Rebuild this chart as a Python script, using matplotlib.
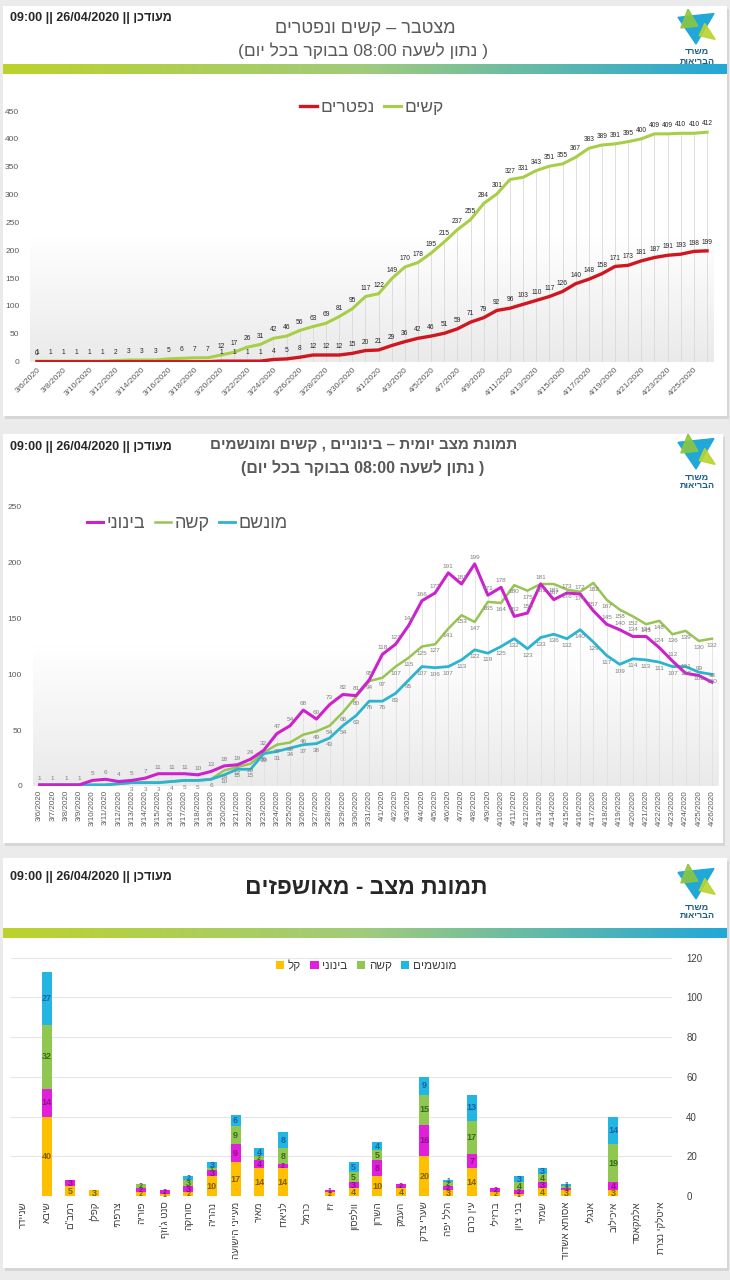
import re
import numpy as np
import matplotlib
matplotlib.use("Agg")
import matplotlib.pyplot as plt
from matplotlib.colors import LinearSegmentedColormap
from matplotlib.patches import Rectangle, Polygon

plt.rcParams['font.family'] = ['Liberation Sans', 'DejaVu Sans']

W, H = 730, 1280

# ---------------- data ----------------
dates = [f'3/{d}/2020' for d in range(6, 32)] + [f'4/{d}/2020' for d in range(1, 27)]

# cumulative (top chart)
severe_cum = [1, 1, 1, 1, 1, 1, 2, 3, 3, 3, 5, 6, 7, 7, 12, 17, 26, 31, 42, 46, 56, 63, 69, 81, 95, 117,
              122, 149, 170, 178, 195, 215, 237, 255, 284, 301, 327, 331, 343, 351, 355, 367, 383, 389,
              391, 395, 400, 409, 409, 410, 410, 412]
deaths_cum = [0, 0, 0, 0, 0, 0, 0, 0, 0, 0, 0, 0, 0, 0, 1, 1, 1, 1, 4, 5, 8, 12, 12, 12, 15, 20,
              21, 29, 36, 42, 46, 51, 59, 71, 79, 92, 96, 103, 110, 117, 126, 140, 148, 158, 171, 173,
              181, 187, 191, 193, 198, 199]

# daily status (middle chart)
moderate = [1, 1, 1, 1, 5, 6, 4, 5, 7, 11, 11, 11, 10, 13, 18, 19, 24, 32, 47, 54, 68, 60, 73, 82, 81, 95,
            118, 127, 144, 166, 173, 191, 181, 199, 171, 178, 152, 155, 181, 167, 173, 172, 157, 145,
            140, 134, 134, 124, 112, 101, 99, 93]
severe = [1, 1, 1, 1, 1, 1, 2, 3, 3, 3, 4, 5, 5, 6, 14, 17, 20, 30, 37, 39, 46, 49, 54, 66, 80, 94,
          97, 107, 115, 125, 127, 141, 153, 147, 165, 164, 180, 175, 181, 181, 176, 174, 182, 167,
          158, 152, 145, 148, 136, 139, 130, 132]
ventilated = [1, 1, 1, 1, 1, 1, 2, 3, 3, 3, 4, 5, 5, 6, 10, 15, 15, 29, 31, 34, 37, 38, 43, 54, 63, 76,
              76, 83, 95, 107, 106, 107, 113, 122, 119, 125, 132, 123, 133, 136, 132, 140, 129, 117,
              109, 114, 113, 111, 107, 107, 102, 100]

# hospitals (bottom chart)
hospitals = ['שניידר', 'שיבא', 'רמב"ם', 'קפלן', 'צרפתי', 'פוריה', "סנט ג'וזף", 'סורוקה', 'נהריה',
             'מעייני הישועה', 'מאיר', 'לניאדו', 'כרמל', 'זיו', 'וולפסון', 'השרון', 'העמק', 'שערי צדק',
             'הלל יפה', 'עין כרם', 'ברזילי', 'בני ציון', 'שמיר', 'אסותא אשדוד', 'אנגלי', 'איכילוב',
             'אלמקאסד', 'איטלקי נצרת']
h_light = [0, 40, 5, 3, 0, 2, 1, 2, 10, 17, 14, 14, 0, 2, 4, 10, 4, 20, 3, 14, 2, 1, 4, 3, 0, 3, 0, 0]
h_moderate = [0, 14, 3, 0, 0, 2, 2, 3, 3, 9, 4, 2, 0, 1, 3, 8, 2, 16, 2, 7, 2, 2, 3, 1, 0, 4, 0, 0]
h_severe = [0, 32, 0, 0, 0, 2, 0, 3, 1, 9, 2, 8, 0, 0, 5, 5, 0, 15, 2, 17, 0, 4, 4, 1, 0, 19, 0, 0]
h_vent = [0, 27, 0, 0, 0, 0, 0, 2, 3, 6, 4, 8, 0, 0, 5, 4, 0, 9, 1, 13, 0, 3, 3, 1, 0, 14, 0, 0]

updated = 'מעודכן || 26/04/2020 || 09:00'
subtitle = '( נתון לשעה 08:00 בבוקר בכל יום)'


def heb(s):
    # visual order for right-to-left text
    t = s[::-1]
    t = re.sub(r'[0-9:/.]+', lambda m: m.group(0)[::-1], t)
    return t.translate(str.maketrans('()', ')('))


def fx(px):
    return px / W


def fy(py):
    return 1 - py / H


fig = plt.figure(figsize=(7.3, 12.8), dpi=100)
fig.patch.set_facecolor('#EBEBEB')

# cards
for (x0, y0, x1, y1) in [(3, 6, 727, 416), (3, 434, 723, 843), (3, 858, 727, 1268)]:
    fig.patches.append(Rectangle((fx(x0 + 2), fy(y1 + 3)), fx(x1 - x0), (y1 - y0) / H,
                                 transform=fig.transFigure, facecolor='#D6D6D6', edgecolor='none', zorder=-10))
    fig.patches.append(Rectangle((fx(x0), fy(y1)), fx(x1 - x0), (y1 - y0) / H,
                                 transform=fig.transFigure, facecolor='white', edgecolor='none', zorder=-9))

bar_cmap = LinearSegmentedColormap.from_list('bar', ['#BDD22C', '#A0CB7C', '#23A7D8'])
bg_cmap = LinearSegmentedColormap.from_list('bg', ['#FFFFFF', '#FFFFFF', '#EAEAEA'])


def grad_bar(y0, y1):
    ax = fig.add_axes([fx(3), fy(y1), fx(724), (y1 - y0) / H])
    ax.imshow(np.linspace(0, 1, 256).reshape(1, -1), aspect='auto', cmap=bar_cmap)
    ax.axis('off')


def logo(y0):
    ax = fig.add_axes([fx(676), fy(y0 + 38), fx(40), 38 / H])
    ax.set_xlim(0, 1)
    ax.set_ylim(0, 1)
    ax.axis('off')
    ax.add_patch(Polygon([[0.05, 0.78], [0.95, 0.88], [0.5, 0.08]], color='#1FA8D8'))
    ax.add_patch(Polygon([[0.3, 1.0], [0.55, 0.55], [0.12, 0.5]], color='#8CC63F', alpha=0.9))
    ax.add_patch(Polygon([[0.72, 0.62], [0.98, 0.2], [0.58, 0.3]], color='#B9D42E', alpha=0.9))
    fig.text(fx(697), fy(y0 + 43), heb('משרד'), ha='center', va='center', fontsize=6.5,
             color='#1D5F86', fontweight='bold')
    fig.text(fx(697), fy(y0 + 52), heb('הבריאות'), ha='center', va='center', fontsize=6.5,
             color='#1D5F86', fontweight='bold')


def date_axis_style(ax):
    for s in ax.spines.values():
        s.set_visible(False)
    ax.tick_params(length=0, colors='#595959')


# ================= panel 1 =================
fig.text(fx(10), fy(18), heb(updated), ha='left', va='center', fontsize=9, fontweight='bold', color='#262626')
fig.text(fx(365), fy(28), heb('מצטבר – קשים ונפטרים'), ha='center', va='center', fontsize=13, color='#595959')
fig.text(fx(363), fy(51), heb(subtitle), ha='center', va='center', fontsize=12.5, color='#595959')
logo(9)
grad_bar(64, 74)

x = np.arange(len(dates))
ax1 = fig.add_axes([fx(30.4), fy(361.7), fx(713.6 - 30.4), (361.7 - 111) / H])
ax1.imshow(np.linspace(0, 1, 200).reshape(-1, 1), extent=[-0.5, 51.5, 0, 450], aspect='auto',
           cmap=bg_cmap, zorder=0)
ax1.vlines(x, 0, severe_cum, color='#D9D9D9', lw=0.6, zorder=1)
l_sev, = ax1.plot(x, severe_cum, color='#A8CE48', lw=2.2, zorder=3, label=heb('קשים'))
l_dead, = ax1.plot(x, deaths_cum, color='#D0161E', lw=2.4, zorder=4, label=heb('נפטרים'))
for i, v in enumerate(severe_cum):
    ax1.annotate(str(v), (i, v), xytext=(0, 3.5), textcoords='offset points', ha='center', va='bottom',
                 fontsize=4.8, color='#262626', zorder=5)
for i, v in enumerate(deaths_cum):
    if v > 0 or i == 0:
        ax1.annotate(str(v), (i, v), xytext=(0, 3.5), textcoords='offset points', ha='center',
                     va='bottom', fontsize=4.8, color='#262626', zorder=5)
ax1.set_xlim(-0.5, 51.5)
ax1.set_ylim(0, 450)
ax1.set_yticks(range(0, 451, 50))
ax1.set_xticks(x[::2])
ax1.set_xticklabels(dates[::2], rotation=45, ha='right', rotation_mode='anchor')
ax1.tick_params(axis='x', labelsize=6, pad=3)
ax1.tick_params(axis='y', labelsize=6, pad=8)
date_axis_style(ax1)
leg1 = ax1.legend(handles=[l_dead, l_sev], loc='center', bbox_to_anchor=(0.5, 1.015), ncol=2,
                  frameon=False, fontsize=12.5, handlelength=1.0, handletextpad=0.2, columnspacing=0.5)
for t in leg1.get_texts():
    t.set_color('#595959')

# ================= panel 2 =================
fig.text(fx(10), fy(447), heb(updated), ha='left', va='center', fontsize=9, fontweight='bold', color='#262626')
fig.text(fx(364), fy(445), heb('תמונת מצב יומית – בינוניים , קשים ומונשמים'), ha='center', va='center',
         fontsize=11, fontweight='bold', color='#595959')
fig.text(fx(363), fy(468), heb(subtitle), ha='center', va='center', fontsize=11.5, fontweight='bold',
         color='#595959')
logo(434)

ax2 = fig.add_axes([fx(33), fy(786), fx(718.6 - 33), (786 - 507) / H])
ax2.imshow(np.linspace(0, 1, 200).reshape(-1, 1), extent=[-0.5, 51.5, 0, 250], aspect='auto',
           cmap=bg_cmap, zorder=0)
top2 = np.maximum(np.maximum(moderate, severe), ventilated)
ax2.vlines(x, 0, top2, color='#E0E0E0', lw=0.6, zorder=1)
l_s, = ax2.plot(x, severe, color='#97C453', lw=1.8, zorder=3, label=heb('קשה'))
l_v, = ax2.plot(x, ventilated, color='#2AB4CE', lw=2.0, zorder=4, label=heb('מונשם'))
l_m, = ax2.plot(x, moderate, color='#CC22CC', lw=2.2, zorder=5, label=heb('בינוני'))
for i in x:
    ax2.annotate(str(moderate[i]), (i, moderate[i]), xytext=(0, 3), textcoords='offset points',
                 ha='center', va='bottom', fontsize=4.6, color='#7F7F7F', zorder=6)
    if i >= 14:
        ax2.annotate(str(severe[i]), (i, severe[i]), xytext=(0, -3), textcoords='offset points',
                     ha='center', va='top', fontsize=4.6, color='#7F7F7F', zorder=6)
    if i >= 7:
        ax2.annotate(str(ventilated[i]), (i, ventilated[i]), xytext=(0, -3), textcoords='offset points',
                     ha='center', va='top', fontsize=4.6, color='#7F7F7F', zorder=6)
ax2.set_xlim(-0.5, 51.5)
ax2.set_ylim(0, 250)
ax2.set_yticks(range(0, 251, 50))
ax2.set_xticks(x)
ax2.set_xticklabels(dates, rotation=90)
ax2.tick_params(axis='x', labelsize=5.8, pad=3)
ax2.tick_params(axis='y', labelsize=6, pad=8)
date_axis_style(ax2)
leg2 = ax2.legend(handles=[l_m, l_s, l_v], loc='center', bbox_to_anchor=(0.225, 0.94), ncol=3,
                  frameon=False, fontsize=13, handlelength=0.9, handletextpad=0.2, columnspacing=0.5)
for t in leg2.get_texts():
    t.set_color('#595959')

# ================= panel 3 =================
fig.text(fx(10), fy(877), heb(updated), ha='left', va='center', fontsize=9, fontweight='bold', color='#262626')
fig.text(fx(366), fy(887), heb('תמונת מצב - מאושפזים'), ha='center', va='center', fontsize=16.5,
         fontweight='bold', color='#262626')
logo(864)
grad_bar(928, 938)

ax3 = fig.add_axes([fx(11.3), fy(1196), fx(661), (1196 - 957.7) / H])
xh = np.arange(len(hospitals))
series = [(h_light, '#FFC000', '#7F6000', 'קל'),
          (h_moderate, '#E21FDA', '#8E0F8E', 'בינוני'),
          (h_severe, '#8FC751', '#3A6B1A', 'קשה'),
          (h_vent, '#22B7E2', '#1F5FA8', 'מונשמים')]
bottom = np.zeros(len(hospitals))
handles = []
for vals, col, lab_col, name in series:
    vals = np.array(vals)
    b = ax3.bar(xh, vals, 0.42, bottom=bottom, color=col, zorder=3, label=heb(name))
    handles.append(b)
    for i, v in enumerate(vals):
        if v > 0:
            ax3.text(i, bottom[i] + v / 2, str(v), ha='center', va='center',
                     fontsize=6.5 if v >= 3 else 5, fontweight='bold', color=lab_col, zorder=4)
    bottom = bottom + vals
ax3.set_xlim(-0.5, 27.5)
ax3.set_ylim(0, 120)
ax3.set_yticks(range(0, 121, 20))
ax3.yaxis.tick_right()
ax3.grid(axis='y', color='#E6E6E6', lw=0.8, zorder=0)
ax3.set_xticks(xh)
ax3.set_xticklabels([heb(h) for h in hospitals], rotation=90)
ax3.tick_params(axis='x', labelsize=7, colors='#404040', length=0, pad=4)
ax3.tick_params(axis='y', labelsize=7, colors='#404040', length=0, pad=10)
for s in ax3.spines.values():
    s.set_visible(False)
leg3 = ax3.legend(handles=handles, loc='center', bbox_to_anchor=(0.537, 0.965), ncol=4, frameon=False,
                  fontsize=8.5, handlelength=0.7, handleheight=0.7, handletextpad=0.3, columnspacing=0.8)
for t in leg3.get_texts():
    t.set_color('#404040')

fig.savefig('out.png', dpi=100, facecolor=fig.get_facecolor())
